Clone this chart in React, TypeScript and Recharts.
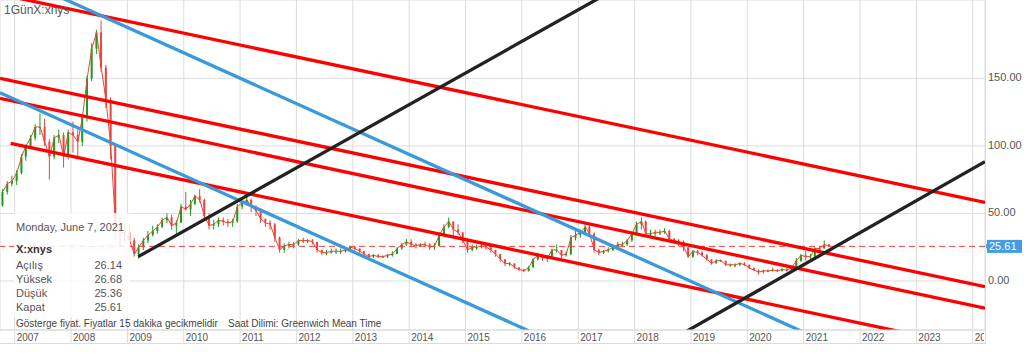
import {
  ComposedChart,
  Bar,
  Line,
  XAxis,
  YAxis,
  CartesianGrid,
  ReferenceLine,
} from "recharts";

// Monthly candles (X:xnys)
const months = [
  "2006-10", "2006-11", "2006-12",
  "2007-01", "2007-02", "2007-03", "2007-04", "2007-05", "2007-06", "2007-07", "2007-08", "2007-09", "2007-10", "2007-11", "2007-12",
  "2008-01", "2008-02", "2008-03", "2008-04", "2008-05", "2008-06", "2008-07", "2008-08", "2008-09", "2008-10", "2008-11", "2008-12",
  "2009-01", "2009-02", "2009-03", "2009-04", "2009-05", "2009-06", "2009-07", "2009-08", "2009-09", "2009-10", "2009-11", "2009-12",
  "2010-01", "2010-02", "2010-03", "2010-04", "2010-05", "2010-06", "2010-07", "2010-08", "2010-09", "2010-10", "2010-11", "2010-12",
  "2011-01", "2011-02", "2011-03", "2011-04", "2011-05", "2011-06", "2011-07", "2011-08", "2011-09", "2011-10", "2011-11", "2011-12",
  "2012-01", "2012-02", "2012-03", "2012-04", "2012-05", "2012-06", "2012-07", "2012-08", "2012-09", "2012-10", "2012-11", "2012-12",
  "2013-01", "2013-02", "2013-03", "2013-04", "2013-05", "2013-06", "2013-07", "2013-08", "2013-09", "2013-10", "2013-11", "2013-12",
  "2014-01", "2014-02", "2014-03", "2014-04", "2014-05", "2014-06", "2014-07", "2014-08", "2014-09", "2014-10", "2014-11", "2014-12",
  "2015-01", "2015-02", "2015-03", "2015-04", "2015-05", "2015-06", "2015-07", "2015-08", "2015-09", "2015-10", "2015-11", "2015-12",
  "2016-01", "2016-02", "2016-03", "2016-04", "2016-05", "2016-06", "2016-07", "2016-08", "2016-09", "2016-10", "2016-11", "2016-12",
  "2017-01", "2017-02", "2017-03", "2017-04", "2017-05", "2017-06", "2017-07", "2017-08", "2017-09", "2017-10", "2017-11", "2017-12",
  "2018-01", "2018-02", "2018-03", "2018-04", "2018-05", "2018-06", "2018-07", "2018-08", "2018-09", "2018-10", "2018-11", "2018-12",
  "2019-01", "2019-02", "2019-03", "2019-04", "2019-05", "2019-06", "2019-07", "2019-08", "2019-09", "2019-10", "2019-11", "2019-12",
  "2020-01", "2020-02", "2020-03", "2020-04", "2020-05", "2020-06", "2020-07", "2020-08", "2020-09", "2020-10", "2020-11", "2020-12",
  "2021-01", "2021-02", "2021-03", "2021-04", "2021-05", "2021-06",
];

const openPrices = [
  56, 66, 72,
  74, 80, 92, 100, 106, 114, 114, 103, 92, 106, 108, 92,
  110, 108, 103, 121, 150, 172, 184, 158, 134, 100, 42, 36,
  36, 30, 20, 25, 30, 34, 37, 40, 45, 47, 41, 43,
  55, 53, 57, 63, 60, 48, 41, 42, 45, 44, 43, 44,
  55, 58, 60, 55, 52, 46, 43, 42, 32, 23, 26, 27,
  27, 30, 30, 30, 29, 23, 21, 21, 22, 22, 22, 23,
  25, 24, 22, 20, 18, 19, 18, 18, 19, 20, 24, 27,
  29, 27, 26, 27, 27, 25, 26, 34, 40, 44, 38, 36,
  30, 23, 25, 25, 26, 25, 23, 20, 16, 13, 13, 10,
  8.5, 7.5, 10, 16, 19, 17, 17, 23, 23, 19, 20, 32,
  34, 36, 40, 35, 23, 21, 22, 23, 25, 27, 27, 30,
  35, 42, 44, 35, 35, 36, 36, 37, 31, 30, 29, 25,
  18, 22, 21, 19, 16, 13, 15, 15, 12, 12, 12, 13,
  12, 9.5, 8, 6.5, 7.5, 7.5, 8, 7.5, 8.5, 8, 10, 15,
  19, 18, 18, 24, 24, 27,
];

const highPrices = [
  68, 74, 78,
  82, 94, 101, 108, 116, 124, 120, 105, 108, 112, 110, 112,
  118, 112, 123, 152, 176, 186, 193, 160, 136, 102, 48, 42,
  41, 32, 27, 32, 37, 41, 42, 47, 50, 49, 45, 57,
  66, 60, 64, 68, 61, 50, 45, 47, 47, 46, 46, 57,
  60, 63, 61, 56, 52, 46, 45, 43, 33, 28, 29, 29,
  31, 32, 31, 31, 29, 23, 23, 24, 24, 24, 24, 26,
  26, 24, 22, 20, 20, 20, 19, 20, 22, 25, 28, 31,
  31, 28, 28, 29, 28, 28, 36, 42, 47, 44, 42, 36,
  30, 27, 27, 28, 27, 25, 23, 20, 16, 14, 13, 10,
  9, 11, 17, 21, 20, 19, 24, 27, 23, 22, 34, 37,
  38, 42, 41, 36, 24, 23, 25, 27, 29, 29, 31, 36,
  44, 47, 45, 38, 38, 38, 39, 38, 32, 31, 30, 25,
  23, 23, 22, 20, 16, 16, 16, 15, 13, 13, 14, 14,
  12, 10, 8.5, 8.5, 8.5, 10, 9, 9.5, 10, 11, 17, 20,
  22, 20, 25, 26, 30, 27.5,
];

const lowPrices = [
  55, 64, 70,
  71, 79, 89, 99, 104, 108, 100, 75, 90, 102, 84, 90,
  95, 92, 100, 118, 148, 168, 155, 128, 90, 30, 25, 28,
  28, 18, 16.5, 23, 28, 33, 35, 39, 43, 38, 35, 43,
  52, 48, 56, 58, 45, 38, 38, 40, 41, 40, 40, 43,
  53, 56, 51, 48, 43, 40, 38, 29, 21, 21, 24, 24,
  26, 28, 28, 27, 21, 19, 19, 20, 20, 20, 21, 22,
  22, 20, 19, 17, 17, 17, 17, 17, 18, 20, 23, 26,
  25, 24, 25, 25, 23, 23, 26, 33, 39, 33, 34, 28,
  21, 22, 23, 24, 23, 21, 18, 14, 11, 11, 9, 7.5,
  6.5, 7, 10, 15, 15, 14, 17, 21, 17, 18, 19, 30,
  32, 35, 33, 21, 19, 20, 21, 22, 24, 25, 26, 29,
  35, 38, 33, 33, 33, 34, 35, 30, 28, 26, 22, 17,
  17, 19, 18, 15, 12, 13, 14, 11, 10.5, 10, 11, 11,
  9, 7.5, 4.6, 5.5, 6.5, 7, 6.5, 7, 7, 7.5, 9.5, 14,
  15, 16, 17, 21, 24, 25.3,
];

const closePrices = [
  66, 72, 74,
  80, 92, 100, 106, 114, 114, 103, 92, 106, 108, 92, 110,
  108, 103, 121, 150, 172, 184, 158, 134, 100, 42, 36, 36,
  30, 20, 25, 30, 34, 37, 40, 45, 47, 41, 43, 55,
  53, 57, 63, 60, 48, 41, 42, 45, 44, 43, 44, 55,
  58, 60, 55, 52, 46, 43, 42, 32, 23, 26, 27, 27,
  30, 30, 30, 29, 23, 21, 21, 22, 22, 22, 23, 25,
  24, 22, 20, 18, 19, 18, 18, 19, 20, 24, 27, 29,
  27, 26, 27, 27, 25, 26, 34, 40, 44, 38, 36, 30,
  23, 25, 25, 26, 25, 23, 20, 16, 13, 13, 10, 8.5,
  7.5, 10, 16, 19, 17, 17, 23, 23, 19, 20, 32, 34,
  36, 40, 35, 23, 21, 22, 23, 25, 27, 27, 30, 35,
  42, 44, 35, 35, 36, 36, 37, 31, 30, 29, 25, 18,
  22, 21, 19, 16, 13, 15, 15, 12, 12, 12, 13, 12,
  9.5, 8, 6.5, 7.5, 7.5, 8, 7.5, 8.5, 8, 10, 15, 19,
  18, 18, 24, 24, 27, 25.61,
];

const yearTicks = [
  2007, 2008, 2009, 2010, 2011, 2012, 2013, 2014, 2015, 2016, 2017, 2018,
  2019, 2020, 2021, 2022, 2023, 2024,
];
const priceTicks = [0, 50, 100, 150];
const lastPrice = 25.61;

// drawn trend lines: [date, price] -> [date, price]
const redLines = [
  { from: "2006-09-28", fromValue: 212.2, to: "2024-03-21", toValue: 58.2 },
  { from: "2006-09-28", fromValue: 150.0, to: "2024-03-21", toValue: -4.2 },
  { from: "2006-09-28", fromValue: 135.2, to: "2024-03-21", toValue: -20.2 },
  { from: "2006-12-06", fromValue: 101.9, to: "2024-03-21", toValue: -50.8 },
];
const blueLines = [
  { from: "2006-09-28", fromValue: 230.2, to: "2024-03-21", toValue: -98.4 },
  { from: "2006-09-28", fromValue: 139.3, to: "2024-03-21", toValue: -189 },
];
const blackLines = [
  { from: "2009-03-12", fromValue: 18.0, to: "2024-03-21", toValue: 369.7 },
  { from: "2017-05-22", fromValue: -73.6, to: "2024-03-21", toValue: 88.3 },
];

const infoDate = "Monday, June 7, 2021";
const infoSymbol = "X:xnys";
const infoLabels = ["Açılış", "Yüksek", "Düşük", "Kapat"];
const infoValues = ["26.14", "26.68", "25.36", "25.61"];

const RED = "#e8453c";
const GREEN = "#1a9e1a";
const LINE_RED = "#ff0000";
const LINE_BLUE = "#3a9ad9";
const LINE_BLACK = "#222222";
const GRID = "#dcdcdc";
const PLOT_RIGHT = 985;
const FONT = "Arial, 'Liberation Sans', sans-serif";

const ts = (d: string) => Date.parse(d + "T00:00:00Z");
const X_DOMAIN = [ts("2006-09-28"), ts("2024-03-21")];

const data = months.map((m, i) => ({
  t: ts(m + "-15"),
  open: openPrices[i],
  high: highPrices[i],
  low: lowPrices[i],
  close: closePrices[i],
  range: [lowPrices[i], highPrices[i]],
}));

function Candle(props: any) {
  const { x, y, width, height, payload } = props;
  if (!payload) return null;
  const top = Math.min(y, y + height);
  const h = Math.abs(height);
  const span = payload.high - payload.low || 1;
  const pOpen = top + ((payload.high - payload.open) / span) * h;
  const pClose = top + ((payload.high - payload.close) / span) * h;
  const color = payload.close >= payload.open ? GREEN : RED;
  const cx = x + width / 2;
  return (
    <g>
      <line x1={cx} x2={cx} y1={top} y2={top + h} stroke={color} strokeWidth={1} />
      <rect
        x={x}
        y={Math.min(pOpen, pClose)}
        width={width}
        height={Math.max(1, Math.abs(pClose - pOpen))}
        fill={color}
      />
    </g>
  );
}

function YearTick(props: any) {
  const { x, y, payload } = props;
  const room = Math.max(0, PLOT_RIGHT - x - 1);
  return (
    <g>
      <line x1={x} x2={x} y1={y} y2={y + 13} stroke={GRID} />
      <svg x={x} y={y} width={Math.min(40, room)} height={13} overflow="hidden">
        <text x={2} y={10.5} fontSize={10} fill="#555" fontFamily={FONT}>
          {new Date(payload.value).getUTCFullYear()}
        </text>
      </svg>
    </g>
  );
}

function PriceTag(props: any) {
  const { viewBox } = props;
  if (!viewBox) return null;
  const x = viewBox.x + viewBox.width;
  const y = viewBox.y;
  return (
    <g>
      <polygon points={`${x},${y} ${x + 3},${y - 4} ${x + 3},${y + 4}`} fill="#3f9de3" />
      <rect x={x + 2} y={y - 6.5} width={35} height={13} fill="#3f9de3" />
      <text x={x + 4} y={y + 4} fontSize={11} fill="#fff" fontFamily={FONT}>
        {lastPrice.toFixed(2)}
      </text>
    </g>
  );
}

function trendLine(l: any, color: string, key: string) {
  return (
    <ReferenceLine
      key={key}
      segment={[
        { x: ts(l.from), y: l.fromValue },
        { x: ts(l.to), y: l.toValue },
      ]}
      stroke={color}
      strokeWidth={3.3}
      ifOverflow="hidden"
    />
  );
}

export default function App() {
  return (
    <div style={{ position: "relative", width: 1024, height: 356, fontFamily: FONT, background: "#fff" }}>
      <style>{"body{margin:0}"}</style>
      <ComposedChart
        width={1024}
        height={356}
        data={data}
        margin={{ top: 0, right: 0, bottom: 0, left: 0 }}
      >
        <CartesianGrid stroke={GRID} />
        <XAxis
          dataKey="t"
          type="number"
          domain={X_DOMAIN}
          allowDataOverflow
          ticks={yearTicks.map((y) => ts(`${y}-01-01`))}
          interval={0}
          height={26}
          tickSize={0}
          tickMargin={0}
          tickLine={false}
          axisLine={{ stroke: GRID }}
          tick={<YearTick />}
        />
        <YAxis
          orientation="right"
          type="number"
          domain={[-36.3, 208]}
          allowDataOverflow
          ticks={priceTicks}
          width={39}
          tickSize={0}
          tickMargin={3}
          axisLine={false}
          tickLine={false}
          tick={{ fill: "#555", fontSize: 11, fontFamily: FONT, dy: -1 }}
          tickFormatter={(v: number) => v.toFixed(2)}
        />
        <Line
          type="linear"
          dataKey="close"
          stroke={RED}
          strokeWidth={1}
          dot={false}
          activeDot={false}
          isAnimationActive={false}
        />
        <Bar dataKey="range" barSize={2} shape={<Candle />} isAnimationActive={false} />
        <ReferenceLine
          y={lastPrice}
          stroke="#ff3b3b"
          strokeDasharray="6 4"
          label={<PriceTag />}
        />
        {redLines.map((l, i) => trendLine(l, LINE_RED, "r" + i))}
        {blueLines.map((l, i) => trendLine(l, LINE_BLUE, "b" + i))}
        {blackLines.map((l, i) => trendLine(l, LINE_BLACK, "k" + i))}
      </ComposedChart>

      <div style={{ position: "absolute", left: 0, top: 343, width: PLOT_RIGHT, height: 1, background: GRID }} />
      <div style={{ position: "absolute", left: PLOT_RIGHT, top: 0, width: 1, height: 344, background: GRID }} />

      <div style={{ position: "absolute", left: 4, top: 3, fontSize: 12, color: "#555" }}>1GünX:xnys</div>

      <div
        style={{
          position: "absolute",
          left: 14,
          top: 213,
          width: 116,
          height: 104,
          background: "rgba(255,255,255,0.85)",
          color: "#555",
        }}
      >
        <div style={{ position: "absolute", left: 2, top: 8, fontSize: 11, whiteSpace: "nowrap" }}>{infoDate}</div>
        <div style={{ position: "absolute", left: 2, top: 30, fontSize: 11, fontWeight: "bold", color: "#333" }}>
          {infoSymbol}
        </div>
        {infoLabels.map((label, i) => (
          <div key={label} style={{ position: "absolute", left: 2, top: 46 + i * 13.9, width: 106, fontSize: 11 }}>
            <span>{label}</span>
            <span style={{ position: "absolute", right: 0 }}>{infoValues[i]}</span>
          </div>
        ))}
      </div>

      <div style={{ position: "absolute", left: 16, top: 318, fontSize: 10, color: "#444", whiteSpace: "nowrap" }}>
        Gösterge fiyat. Fiyatlar 15 dakika gecikmelidir
      </div>
      <div style={{ position: "absolute", left: 228, top: 318, fontSize: 10, color: "#444", whiteSpace: "nowrap" }}>
        Saat Dilimi: Greenwich Mean Time
      </div>
    </div>
  );
}
